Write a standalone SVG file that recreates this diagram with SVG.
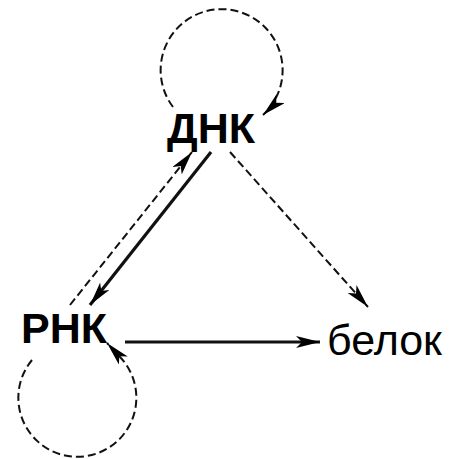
<svg xmlns="http://www.w3.org/2000/svg" width="461" height="459" viewBox="0 0 461 459">
<style>
.lbl{font-family:"Liberation Sans",Arial,sans-serif;fill:#000}
.b{font-weight:bold;font-size:43px}
.r{font-size:43px}
.dash{fill:none;stroke:#111;stroke-width:2;stroke-dasharray:8 4}
.solid{fill:none;stroke:#111;stroke-width:3.2}
</style>
<defs>
<marker id="ah" markerUnits="userSpaceOnUse" markerWidth="26" markerHeight="12" refX="24" refY="6" orient="auto">
<path d="M0,0 L24,6 L0,12 L6,6 z" fill="#000"/>
</marker>
</defs>
<rect width="461" height="459" fill="#fff"/>
<g id="connectors">
<path id="dna-loop" class="dash" d="M173 107 A61 61 0 1 1 263 115" marker-end="url(#ah)"/>
<path id="rna-loop" class="dash" d="M32 360 A59 59 0 1 0 120 357 L107 343" marker-end="url(#ah)"/>
<path id="rna-dna" class="dash" d="M70 305 L192 152" marker-end="url(#ah)"/>
<path id="dna-rna" class="solid" d="M211 152 L90 305" marker-end="url(#ah)"/>
<path id="dna-protein" class="dash" d="M230 152 L368 307" marker-end="url(#ah)"/>
<path id="rna-protein" class="solid" d="M125 342 L320 342" marker-end="url(#ah)"/>
</g>
<g id="dna"><text class="lbl b" x="167" y="143">ДНК</text></g>
<g id="rna"><text class="lbl b" x="21" y="343">РНК</text></g>
<g id="protein"><text class="lbl r" x="327" y="355">белок</text></g>
</svg>
